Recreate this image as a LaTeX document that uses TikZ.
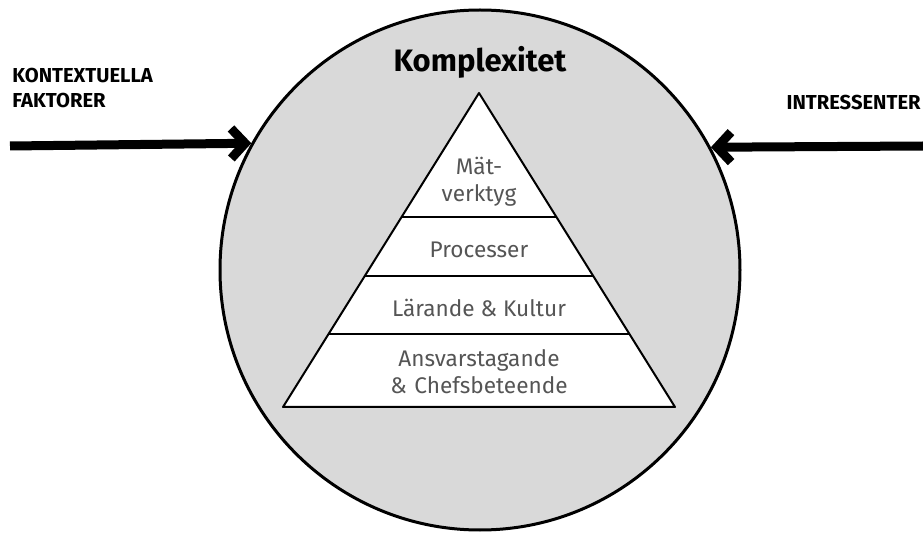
\documentclass[tikz,border=0pt]{standalone}
\usepackage{fontspec}
\setmainfont{Fira Sans}
\usetikzlibrary{arrows.meta,calc}

\definecolor{ringgray}{RGB}{217,217,217}
\definecolor{layertext}{RGB}{85,85,85}

\begin{document}
\begin{tikzpicture}[x=0.5pt,y=-0.5pt,
  layer/.style={text=layertext,font=\fontsize{11.3}{13.5}\selectfont,align=center,inner sep=0pt},
  side/.style={font=\bfseries\fontsize{10.1}{12.5}\selectfont,inner sep=0pt},
  push/.style={line width=4.5pt,-{Straight Barb[length=7pt,width=15pt]}}]
\useasboundingbox (0,0) rectangle (923,535);

\node[circle,draw,line width=1.5pt,fill=ringgray,minimum size=260pt,inner sep=0pt] (ring) at (480,270) {};
\node[font=\bfseries\fontsize{15.5}{17}\selectfont,anchor=base,inner sep=0pt] (title) at (480,72) {Komplexitet};

% pyramid
\coordinate (apex) at (479,93);
\coordinate (bl) at (283,407);
\coordinate (br) at (675,407);
\draw[line width=1pt,fill=white,line join=round] (apex) -- (bl) -- (br) -- cycle;
\foreach \t in {0.395,0.583,0.768}
  \draw[line width=1pt] ($(apex)!\t!(bl)$) -- ($(apex)!\t!(br)$);

\node[layer] (tool) at (479,182) {Mät-\\verktyg};
\node[layer,anchor=base] (proc) at (479,258) {Processer};
\node[layer,anchor=base] (learn) at (479,317) {Lärande \& Kultur};
\node[layer,text width=150pt] (lead) at (479,372) {Ansvarstagande\\\& Chefsbeteende};

% outside forces
\node[side,anchor=north west,align=left] (ctx) at (12,68) {KONTEXTUELLA\\FAKTORER};
\node[side,anchor=north east] (stake) at (921,95) {INTRESSENTER};
\coordinate (ctxfrom) at (10,146);
\coordinate (stakefrom) at (923,146);
\draw[push] (ctxfrom) -- (ring.151.5);
\draw[push] (stakefrom) -- (ring.28.5);
\end{tikzpicture}
\end{document}
